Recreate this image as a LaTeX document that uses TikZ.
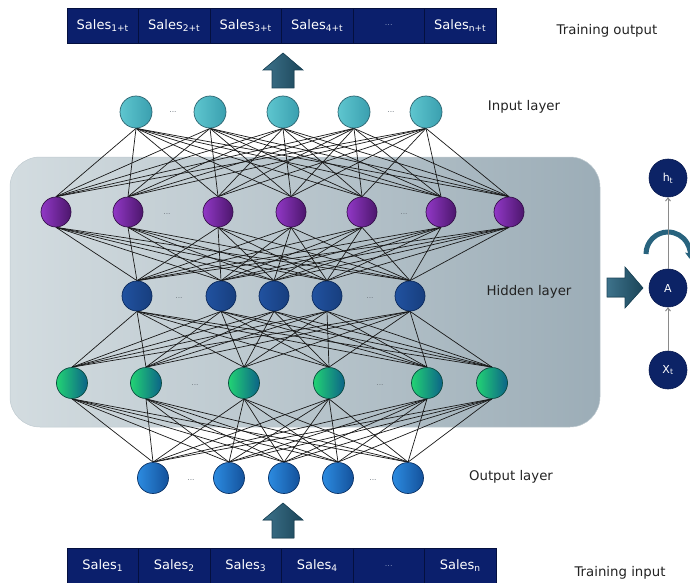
\documentclass[tikz,border=0pt]{standalone}
\usepackage{fontspec}
\setmainfont{DejaVu Sans}
\usetikzlibrary{arrows.meta}
\pgfdeclarelayer{panel}
\pgfdeclarelayer{links}
\pgfsetlayers{panel,links,main}

\definecolor{navy}{HTML}{0B1F6C}
\definecolor{navyline}{HTML}{04103F}
\definecolor{arrowteal}{HTML}{28637E}
\definecolor{arrowdark}{HTML}{1B4559}
\definecolor{inL}{HTML}{5EC6CF}\definecolor{inR}{HTML}{3A9FAF}\definecolor{inB}{HTML}{2D6470}
\definecolor{puL}{HTML}{9138C6}\definecolor{puR}{HTML}{4C166C}\definecolor{puB}{HTML}{35104A}
\definecolor{miL}{HTML}{2152A0}\definecolor{miR}{HTML}{173E7E}\definecolor{miB}{HTML}{0C2A5C}
\definecolor{grL}{HTML}{22D374}\definecolor{grR}{HTML}{0C6388}\definecolor{grB}{HTML}{0C4A40}
\definecolor{ouL}{HTML}{2C8BE0}\definecolor{ouR}{HTML}{14529C}\definecolor{ouB}{HTML}{0C3468}
\definecolor{cellgray}{HTML}{7E8DB8}
\definecolor{dotgray}{HTML}{707880}
\definecolor{captext}{HTML}{222222}
\definecolor{rnnfill}{HTML}{0C2366}
\definecolor{rnnedge}{HTML}{081A50}
\definecolor{rnngray}{HTML}{8A8A8A}
\definecolor{panL}{HTML}{D3DCE0}\definecolor{panR}{HTML}{9CADB7}\definecolor{panB}{HTML}{BFCAD0}

\tikzset{
  neuron/.style={circle, inner sep=0pt, minimum size=31pt, line width=0.7pt},
  inlayer/.style={neuron, left color=inL, right color=inR, draw=inB, minimum size=32pt},
  purplelayer/.style={neuron, left color=puL, right color=puR, draw=puB, minimum size=30pt},
  midlayer/.style={neuron, left color=miL, right color=miR, draw=miB, minimum size=30pt},
  greenlayer/.style={neuron, left color=grL, right color=grR, draw=grB, minimum size=31pt},
  outlayer/.style={neuron, left color=ouL, right color=ouR, draw=ouB, minimum size=31pt},
  cellnode/.style={rectangle, fill=navy, draw=navyline, line width=0.8pt, minimum width=71.5pt,
    minimum height=35pt, inner sep=0pt, text=white, font=\fontsize{13}{15}\selectfont},
  celldots/.style={cellnode, text=cellgray, font=\fontsize{8}{10}\selectfont},
  dotsnode/.style={inner sep=0pt, text=dotgray, font=\fontsize{7.5}{8}\selectfont},
  caption/.style={inner sep=0pt, text=captext, font=\fontsize{13.3}{15}\selectfont},
  link/.style={draw=black!90, line width=0.7pt},
  rnncell/.style={circle, inner sep=0pt, minimum size=38pt, fill=rnnfill, draw=rnnedge,
    line width=0.6pt, text=white, font=\fontsize{11}{13}\selectfont},
  rnnlink/.style={draw=rnngray, line width=1pt, -{Straight Barb[length=3pt,width=5pt]}},
  fatarrow/.style={left color=arrowteal!90!white, right color=arrowdark, draw=arrowdark, line width=0.6pt},
  panelbox/.style={rectangle, rounded corners=30pt, left color=panL, right color=panR,
    draw=panB, line width=0.5pt, inner sep=0pt}
}

\begin{document}
\begin{tikzpicture}[x=1pt, y=-1pt]
\useasboundingbox (0,0) rectangle (690,583);

% shaded panel behind the recurrent layers
\begin{pgfonlayer}{panel}
  \node[panelbox, minimum width=590pt, minimum height=270pt] (panel) at (305,292) {};
\end{pgfonlayer}

% output table
\foreach \lab [count=\i] in {1+t,2+t,3+t,4+t} {
  \node[cellnode] (top\i) at ({67+35.75+71.5*(\i-1)},25.5) {Sales\textsubscript{\lab}};
}
\node[celldots] (top5) at ({67+35.75+71.5*4},25.5) {...};
\node[cellnode] (top6) at ({67+35.75+71.5*5},25.5) {Sales\textsubscript{n+t}};

% input table
\foreach \lab [count=\i] in {1,2,3,4} {
  \node[cellnode] (bot\i) at ({67+35.75+71.5*(\i-1)},565.5) {Sales\textsubscript{\lab}};
}
\node[celldots] (bot5) at ({67+35.75+71.5*4},565.5) {...};
\node[cellnode] (bot6) at ({67+35.75+71.5*5},565.5) {Sales\textsubscript{n}};

% layers of neurons
\foreach \x [count=\i] in {136,210,283,354,426}
  \node[inlayer] (c\i) at (\x,112) {};
\foreach \x [count=\i] in {56,128,218,291,362,441,509}
  \node[purplelayer] (p\i) at (\x,212) {};
\foreach \x [count=\i] in {137,221,274,327,410}
  \node[midlayer] (m\i) at (\x,296) {};
\foreach \x [count=\i] in {72,146,244,329,427,492}
  \node[greenlayer] (g\i) at (\x,383) {};
\foreach \x [count=\i] in {153,229,284,338,408}
  \node[outlayer] (o\i) at (\x,478) {};

% ellipses between neurons
\node[dotsnode] (dc1) at (173,112) {...};
\node[dotsnode] (dc2) at (391,112) {...};
\node[dotsnode] (dp1) at (167,214) {...};
\node[dotsnode] (dp2) at (404,214) {...};
\node[dotsnode] (dm1) at (179,298) {...};
\node[dotsnode] (dm2) at (370,298) {...};
\node[dotsnode] (dg1) at (195,385) {...};
\node[dotsnode] (dg2) at (380,385) {...};
\node[dotsnode] (do1) at (191,480) {...};
\node[dotsnode] (do2) at (373,480) {...};

% full connections between neighbouring layers
\begin{pgfonlayer}{links}
  \foreach \i in {1,...,5} \foreach \j in {1,...,7}
    \draw[link] (c\i.south) -- (p\j.north);
  \foreach \i in {1,...,7} \foreach \j in {1,...,5}
    \draw[link] (p\i.south) -- (m\j.north);
  \foreach \i in {1,...,5} \foreach \j in {1,...,6}
    \draw[link] (m\i.south) -- (g\j.north);
  \foreach \i in {1,...,6} \foreach \j in {1,...,5}
    \draw[link] (g\i.south) -- (o\j.north);
\end{pgfonlayer}

% captions
\node[caption] (capto) at (607,31) {Training output};
\node[caption] (captin) at (524,107) {Input layer};
\node[caption] (capth) at (529,292) {Hidden layer};
\node[caption] (capout) at (511,477) {Output layer};
\node[caption] (captti) at (620,573) {Training input};

% broad arrows
\fill[fatarrow] (272,88) -- (272,70) -- (263,70) -- (283,53) -- (303,70) -- (294,70) -- (294,88) -- cycle;
\fill[fatarrow] (272,538) -- (272,520) -- (263,520) -- (283,503) -- (303,520) -- (294,520) -- (294,538) -- cycle;
\fill[fatarrow] (607,278) -- (625,278) -- (625,267) -- (643,288) -- (625,308) -- (625,297) -- (607,297) -- cycle;

% unrolled recurrent cell
\node[rnncell] (ht) at (668,178) {h\textsubscript{t}};
\node[rnncell] (acell) at (668,288) {A};
\node[rnncell] (xt) at (668,370) {X\textsubscript{t}};
\coordinate (loopstart) at (646,254);
\draw[arrowteal, line width=5pt, -{Triangle[length=5pt,width=11pt]}]
  (loopstart) arc[start angle=180, end angle=372, radius=22];
\draw[rnnlink] (xt) -- (acell);
\draw[rnnlink] (acell) -- (ht);
\end{tikzpicture}
\end{document}
